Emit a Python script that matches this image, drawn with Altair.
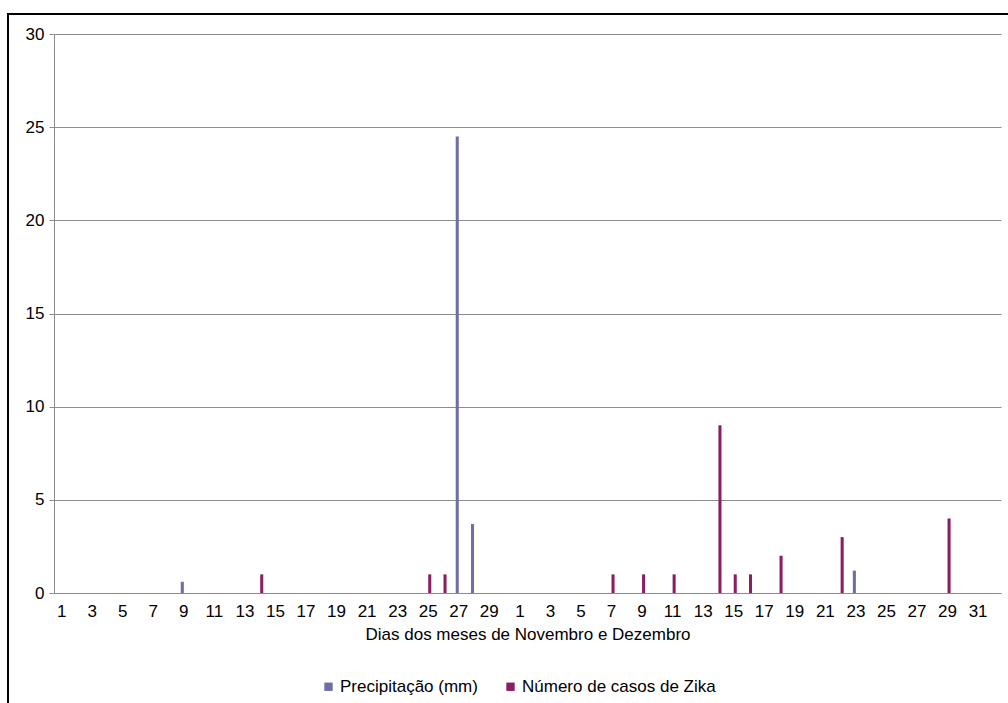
import altair as alt
import pandas as pd

# Days of November (1-30) and December (1-31), plus one trailing empty slot
dias = [f"11-{d}" for d in range(1, 31)] + [f"12-{d}" for d in range(1, 32)] + ["01-0"]

# Daily rainfall (mm)
precipitacao = [0] * 62
precipitacao[8] = 0.6     # Nov 9
precipitacao[26] = 24.5   # Nov 27
precipitacao[27] = 3.7    # Nov 28
precipitacao[52] = 1.2    # Dec 23

# Daily Zika cases
casos = [0] * 62
casos[13] = 1   # Nov 14
casos[24] = 1   # Nov 25
casos[25] = 1   # Nov 26
casos[36] = 1   # Dec 7
casos[38] = 1   # Dec 9
casos[40] = 1   # Dec 11
casos[43] = 9   # Dec 14
casos[44] = 1   # Dec 15
casos[45] = 1   # Dec 16
casos[47] = 2   # Dec 18
casos[51] = 3   # Dec 22
casos[58] = 4   # Dec 29

series = ["Precipitação (mm)", "Número de casos de Zika"]
cores = ["#6E6EA4", "#8B1D62"]

# Every other day gets a label
rotulos = [k for k in dias if int(k.split("-")[1]) % 2 == 1]

rows = []
for i, k in enumerate(dias):
    rows.append({"dia": k, "serie": series[0], "valor": precipitacao[i]})
    rows.append({"dia": k, "serie": series[1], "valor": casos[i]})
df = pd.DataFrame(rows)
df = df[df["valor"] > 0]

FONT = "Liberation Sans"
FS = 17

bars = alt.Chart(df).mark_bar().encode(
    x=alt.X(
        "dia:N",
        sort=dias,
        scale=alt.Scale(domain=dias, paddingInner=0.6, paddingOuter=0.3),
        axis=alt.Axis(
            title="Dias dos meses de Novembro e Dezembro",
            values=rotulos,
            labelExpr="split(datum.value, '-')[1]",
            labelAngle=0,
            ticks=False,
            labelPadding=10,
            titlePadding=7,
            domainColor="#8C8C8C",
            labelFontSize=FS,
            titleFontSize=FS,
            titleFontWeight="normal",
            labelColor="#000000",
            titleColor="#000000",
            labelFont=FONT,
            titleFont=FONT,
            grid=False,
        ),
    ),
    xOffset=alt.XOffset("serie:N", sort=series, scale=alt.Scale(domain=series, paddingInner=0)),
    y=alt.Y(
        "valor:Q",
        scale=alt.Scale(domain=[0, 30], nice=False),
        axis=alt.Axis(
            title=None,
            values=[0, 5, 10, 15, 20, 25, 30],
            tickSize=5,
            tickColor="#8C8C8C",
            domainColor="#8C8C8C",
            gridColor="#8C8C8C",
            labelPadding=5,
            labelFontSize=FS,
            labelColor="#000000",
            labelFont=FONT,
        ),
    ),
    color=alt.Color(
        "serie:N",
        sort=series,
        scale=alt.Scale(domain=series, range=cores),
        legend=alt.Legend(
            title=None,
            orient="none",
            direction="horizontal",
            legendX=266,
            legendY=644,
            symbolType="square",
            symbolSize=70,
            symbolStrokeWidth=0,
            labelFontSize=FS,
            labelFont=FONT,
            labelColor="#000000",
            labelLimit=0,
            columnPadding=24,
            labelOffset=3,
        ),
    ),
)

# Outer chart frame (top and left edges)
frame_df = pd.DataFrame({"a": [0]})
frame_top = alt.Chart(frame_df).mark_rule(color="#000000", strokeWidth=2).encode(
    x=alt.value(-46), x2=alt.value(960), y=alt.value(-20)
)
frame_left = alt.Chart(frame_df).mark_rule(color="#000000", strokeWidth=2).encode(
    x=alt.value(-46), y=alt.value(-21), y2=alt.value(680)
)

chart = alt.layer(bars, frame_top, frame_left).properties(
    width=947,
    height=559,
    autosize=alt.AutoSizeParams(type="none"),
    padding={"left": 54, "top": 34, "right": 7, "bottom": 110},
    background="white",
).configure_view(stroke=None)

chart.save("out.html", embed_options={"renderer": "svg", "actions": False})
